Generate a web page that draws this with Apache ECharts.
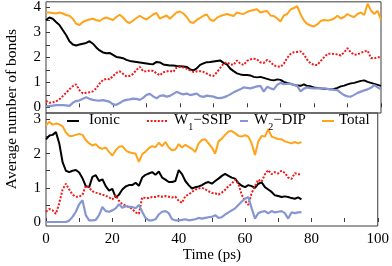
<!DOCTYPE html>
<html><head><meta charset="utf-8">
<script src="https://cdn.jsdelivr.net/npm/echarts@6/dist/echarts.min.js"></script>
<style>html,body{margin:0;padding:0;background:#fff}#c{width:392px;height:266px}</style>
</head><body><div id="c"></div><script>
const topTime = [0,1,2,3,4,5,6,7,8,9,10,11,12,13,14,15,16,17,18,19,20,21,22,23,24,25,26,27,28,29,30,31,32,33,34,35,36,37,38,39,40,41,42,43,44,45,46,47,48,49,50,51,52,53,54,55,56,57,58,59,60,61,62,63,64,65,66,67,68,69,70,71,72,73,74,75,76,77,78,79,80,81,82,83,84,85,86,87,88,89,90,91,92,93,94,95,96,97,98,99,100];
const botTime = [0,1,2,3,4,5,6,7,8,9,10,11,12,13,14,15,16,17,18,19,20,21,22,23,24,25,26,27,28,29,30,31,32,33,34,35,36,37,38,39,40,41,42,43,44,45,46,47,48,49,50,51,52,53,54,55,56,57,58,59,60,61,62,63,64,65,66,67,68,69,70,71,72,73,74,75,76,77];

const totalTop = [3.80,3.80,3.78,3.76,3.80,3.76,3.70,3.67,3.55,3.35,
3.30,3.42,3.48,3.52,3.55,3.50,3.46,3.55,3.60,3.55,
3.50,3.62,3.71,3.60,3.44,3.38,3.48,3.58,3.67,3.58,
3.52,3.62,3.72,3.78,3.55,3.62,3.68,3.55,3.68,3.80,
3.84,3.76,3.62,3.42,3.38,3.50,3.58,3.67,3.72,3.52,
3.46,3.58,3.66,3.70,3.74,3.70,3.66,3.80,3.76,3.74,
3.82,3.87,3.90,3.93,3.80,3.84,3.86,3.68,3.66,3.56,
3.44,3.68,3.74,3.92,3.98,4.05,3.72,3.48,3.34,3.28,
3.24,3.32,3.46,3.50,3.48,3.50,3.56,3.67,3.56,3.62,
3.74,3.66,3.62,3.74,3.80,3.70,4.15,3.88,3.74,3.87,
3.50];
const ionicTop = [3.50,3.60,3.55,3.42,3.30,3.10,2.90,2.65,2.52,2.48,
2.52,2.55,2.58,2.65,2.55,2.40,2.28,2.20,2.17,2.18,
2.10,2.02,2.00,1.97,1.90,1.86,1.84,1.82,1.80,1.78,
1.76,1.74,1.73,1.82,1.80,1.72,1.70,1.68,1.68,1.66,
1.65,1.64,1.62,1.52,1.48,1.56,1.70,1.76,1.81,1.82,
1.84,1.86,1.88,1.78,1.72,1.55,1.45,1.36,1.32,1.30,
1.30,1.28,1.22,1.20,1.22,1.18,1.14,1.10,1.08,1.12,
1.10,1.02,0.98,0.94,0.90,0.87,0.86,0.92,0.85,0.84,
0.80,0.78,0.76,0.74,0.73,0.72,0.74,0.78,0.84,0.87,
0.92,0.96,0.98,1.02,1.06,1.08,1.02,0.98,0.94,0.90,
0.86];
const ssipTop = [0.26,0.18,0.20,0.24,0.32,0.45,0.58,0.72,0.85,0.92,
0.68,0.56,0.58,0.60,0.64,0.76,0.95,1.10,1.14,1.12,
1.25,1.38,1.44,1.34,1.24,1.26,1.34,1.50,1.62,1.45,
1.44,1.48,1.46,1.36,1.28,1.40,1.44,1.46,1.42,1.60,
1.62,1.60,1.55,1.48,1.42,1.44,1.45,1.42,1.35,1.28,
1.26,1.40,1.58,1.75,1.81,1.72,1.70,1.88,1.75,1.70,
1.86,1.92,1.95,1.92,1.80,1.78,1.90,1.82,1.68,1.64,
1.62,1.75,1.98,2.14,2.21,2.22,2.24,2.12,1.90,1.76,
1.70,1.70,1.86,2.00,2.14,2.15,2.14,2.12,2.08,2.20,
2.37,2.20,2.11,2.12,2.18,2.24,2.27,1.98,1.96,2.01,
2.01];
const dipTop = [0.05,0.05,0.07,0.09,0.09,0.09,0.08,0.06,0.18,0.25,
0.28,0.34,0.40,0.34,0.30,0.28,0.27,0.29,0.26,0.22,
0.12,0.10,0.17,0.26,0.30,0.32,0.35,0.34,0.30,0.38,
0.50,0.54,0.44,0.36,0.46,0.48,0.43,0.46,0.54,0.62,
0.56,0.52,0.55,0.49,0.52,0.55,0.45,0.42,0.47,0.45,
0.43,0.38,0.37,0.40,0.45,0.52,0.60,0.66,0.72,0.80,
0.78,0.76,0.80,0.84,0.86,0.63,0.82,0.76,0.72,0.90,
0.98,0.93,0.94,0.95,0.90,0.85,0.64,0.75,0.80,0.77,
0.76,0.76,0.76,0.76,0.74,0.72,0.70,0.69,0.58,0.49,
0.44,0.43,0.50,0.58,0.63,0.68,0.72,0.78,0.89,0.80,
0.72];

const totalBot = [2.83,2.93,2.85,2.88,2.86,2.80,2.62,2.52,2.52,2.55,
2.58,2.55,2.40,2.30,2.24,2.28,2.18,2.14,2.18,2.05,
1.94,2.10,2.20,2.22,2.10,2.04,2.02,2.00,1.76,1.98,
2.06,2.16,2.22,2.19,2.32,2.22,2.34,2.18,2.10,2.12,
2.28,2.18,2.26,2.20,2.14,2.05,2.30,2.40,2.42,2.30,
2.18,2.00,2.36,2.44,2.55,2.65,2.66,2.60,2.52,2.50,
2.54,2.50,2.30,1.96,2.36,2.52,2.50,2.72,2.50,2.46,
2.43,2.42,2.36,2.33,2.30,2.34,2.30,2.34];
const ionicBot = [2.42,2.53,2.55,2.63,2.30,1.75,1.50,1.46,1.50,1.52,
1.45,1.28,1.05,1.02,1.32,1.37,1.20,1.25,1.05,0.92,
0.97,0.72,0.80,0.95,1.04,1.08,1.08,1.15,1.06,1.30,
1.38,1.42,1.46,1.38,1.48,1.30,1.24,1.17,1.17,1.20,
1.52,1.40,1.20,1.08,0.98,1.02,1.04,1.08,1.14,1.17,
1.12,1.20,1.27,1.35,1.41,1.35,1.30,1.27,1.14,1.06,
1.02,1.08,1.05,1.00,1.12,1.16,1.02,0.95,0.88,0.78,
0.76,0.73,0.75,0.73,0.70,0.68,0.72,0.66];
const ssipBot = [0.30,0.38,0.34,0.24,0.55,0.95,1.12,0.95,0.80,0.74,
0.74,0.80,1.06,1.00,0.90,0.86,0.83,0.80,0.77,0.72,
0.66,0.78,0.62,0.52,0.48,0.44,0.38,0.28,0.24,0.72,
0.70,0.70,0.73,0.73,0.76,0.74,0.76,0.74,0.72,0.74,
0.62,0.56,0.76,0.80,0.88,0.95,0.98,1.00,0.96,0.90,
0.85,0.84,0.80,0.86,0.94,1.05,1.12,1.24,1.12,0.80,
0.62,0.50,0.85,1.05,1.24,1.18,1.40,1.52,1.40,1.46,
1.42,1.50,1.44,1.30,1.26,1.43,1.40,1.40];
const dipBot = [0.00,0.00,0.00,0.00,0.00,0.00,0.00,0.04,0.15,0.30,
0.52,0.64,0.20,0.05,0.05,0.06,0.20,0.44,0.32,0.30,
0.34,0.40,0.52,0.42,0.46,0.44,0.44,0.40,0.50,0.30,
0.12,0.05,0.05,0.08,0.22,0.30,0.32,0.26,0.08,0.05,
0.05,0.06,0.08,0.05,0.06,0.08,0.12,0.10,0.12,0.14,
0.15,0.20,0.12,0.14,0.22,0.28,0.34,0.40,0.50,0.60,
0.68,0.73,0.40,0.10,0.26,0.30,0.32,0.25,0.32,0.28,
0.30,0.32,0.26,0.10,0.28,0.26,0.28,0.29];

const names = ['Ionic', 'W1\u2212SSIP', 'W2\u2212DIP', 'Total'];
const xTicks = [0,10,20,30,40,50,60,70,80,90,100];
const xLabels = [0,20,40,60,80,100];
const yTopTicks = [0,0.5,1,1.5,2,2.5,3,3.5,4];
const yTopLabels = [0,1,2,3,4];
const yBotTicks = [0,0.5,1,1.5,2,2.5,3];
const yBotLabels = [0,1,2,3];

const FONT = 'Liberation Serif';
const pairs = (t, v) => t.map((x, i) => [x, v[i]]);
const frame = '#3a3a3a';

function xAx(idx, showLabels) {
  return {
    type: 'value', gridIndex: idx, min: 0, max: 100,
    axisLine: { show: false },
    axisTick: { show: true, inside: true, length: 4, customValues: xTicks, lineStyle: { color: frame } },
    axisLabel: { show: showLabels, customValues: xLabels, margin: 6, fontFamily: FONT, fontSize: 15, color: '#000' },
    splitLine: { show: false },
    name: showLabels ? 'Time (ps)' : '', nameLocation: 'middle', nameGap: 22,
    nameTextStyle: { fontFamily: FONT, fontSize: 15, color: '#000' }
  };
}
function yAx(idx, min, max, ticks, labels) {
  return {
    type: 'value', gridIndex: idx, min: min, max: max,
    axisLine: { show: false },
    axisTick: { show: true, inside: true, length: 4, customValues: ticks, lineStyle: { color: frame } },
    axisLabel: { customValues: labels, margin: 5, fontFamily: FONT, fontSize: 15, color: '#000' },
    splitLine: { show: false }
  };
}

const styles = [
  { color: '#000000', type: 'solid', width: 2 },
  { color: '#f01818', type: [2, 1.6], width: 2 },
  { color: '#8796d2', type: 'solid', width: 2.2 },
  { color: '#ffa31a', type: 'solid', width: 2 }
];
const topData = [ionicTop, ssipTop, dipTop, totalTop];
const botData = [ionicBot, ssipBot, dipBot, totalBot];
const series = [];
names.forEach((n, i) => {
  series.push({ name: n, type: 'line', xAxisIndex: 0, yAxisIndex: 0, data: pairs(topTime, topData[i]),
    symbol: 'none', silent: true, animation: false,
    lineStyle: { color: styles[i].color, type: styles[i].type, width: styles[i].width }, itemStyle: { color: styles[i].color } });
});
names.forEach((n, i) => {
  series.push({ name: n, type: 'line', xAxisIndex: 1, yAxisIndex: 1, data: pairs(botTime, botData[i]),
    symbol: 'none', silent: true, animation: false,
    lineStyle: { color: styles[i].color, type: styles[i].type, width: styles[i].width }, itemStyle: { color: styles[i].color } });
});

const rich = {
  n: { fontFamily: FONT, fontSize: 15, color: '#000', lineHeight: 16, verticalAlign: 'top' },
  s: { fontFamily: FONT, fontSize: 10, color: '#000', lineHeight: 10, padding: [9, 0, 0, 0], verticalAlign: 'top' }
};
function fmt(name) {
  if (name.startsWith('W1')) return '{n|W}{s|1}{n|\u2212SSIP}';
  if (name.startsWith('W2')) return '{n|W}{s|2}{n|\u2212DIP}';
  return '{n|' + name + '}';
}
const legendPos = [
  { left: 66, w: 12, pad: 5 },
  { left: 146, w: 20, pad: 2 },
  { left: 239, w: 8, pad: 1 },
  { left: 321, w: 12, pad: 0 }
];
const legends = names.map((n, i) => ({
  data: [n], left: legendPos[i].left, top: 113, padding: 0,
  itemWidth: legendPos[i].w, itemHeight: 12, selectedMode: false,
  itemStyle: { opacity: 0, borderWidth: 0 },
  lineStyle: { width: 2 },
  formatter: fmt,
  textStyle: { fontFamily: FONT, fontSize: 15, color: '#000', padding: [0, 0, 0, legendPos[i].pad], rich: rich }
}));

const chart = echarts.init(document.getElementById('c'), null, { renderer: 'canvas' });
chart.setOption({
  animation: false,
  backgroundColor: '#fff',
  grid: [
    { left: 46, right: 11, top: 1, height: 112, show: true, borderColor: frame, borderWidth: 1, backgroundColor: 'transparent' },
    { left: 46, right: 11, top: 113, height: 113, show: true, borderColor: frame, borderWidth: 1, backgroundColor: 'transparent' }
  ],
  xAxis: [xAx(0, false), xAx(1, true)],
  yAxis: [yAx(0, -0.227, 4.227, yTopTicks, yTopLabels), yAx(1, -0.117, 3.19, yBotTicks, yBotLabels)],
  legend: legends,
  graphic: [{
    type: 'text', x: 12, y: 109, rotation: Math.PI / 2,
    style: { text: 'Average number of bonds', fontFamily: FONT, fontSize: 15.5, fill: '#000', align: 'center', verticalAlign: 'middle' }
  }],
  series: series
});
</script></body></html>
